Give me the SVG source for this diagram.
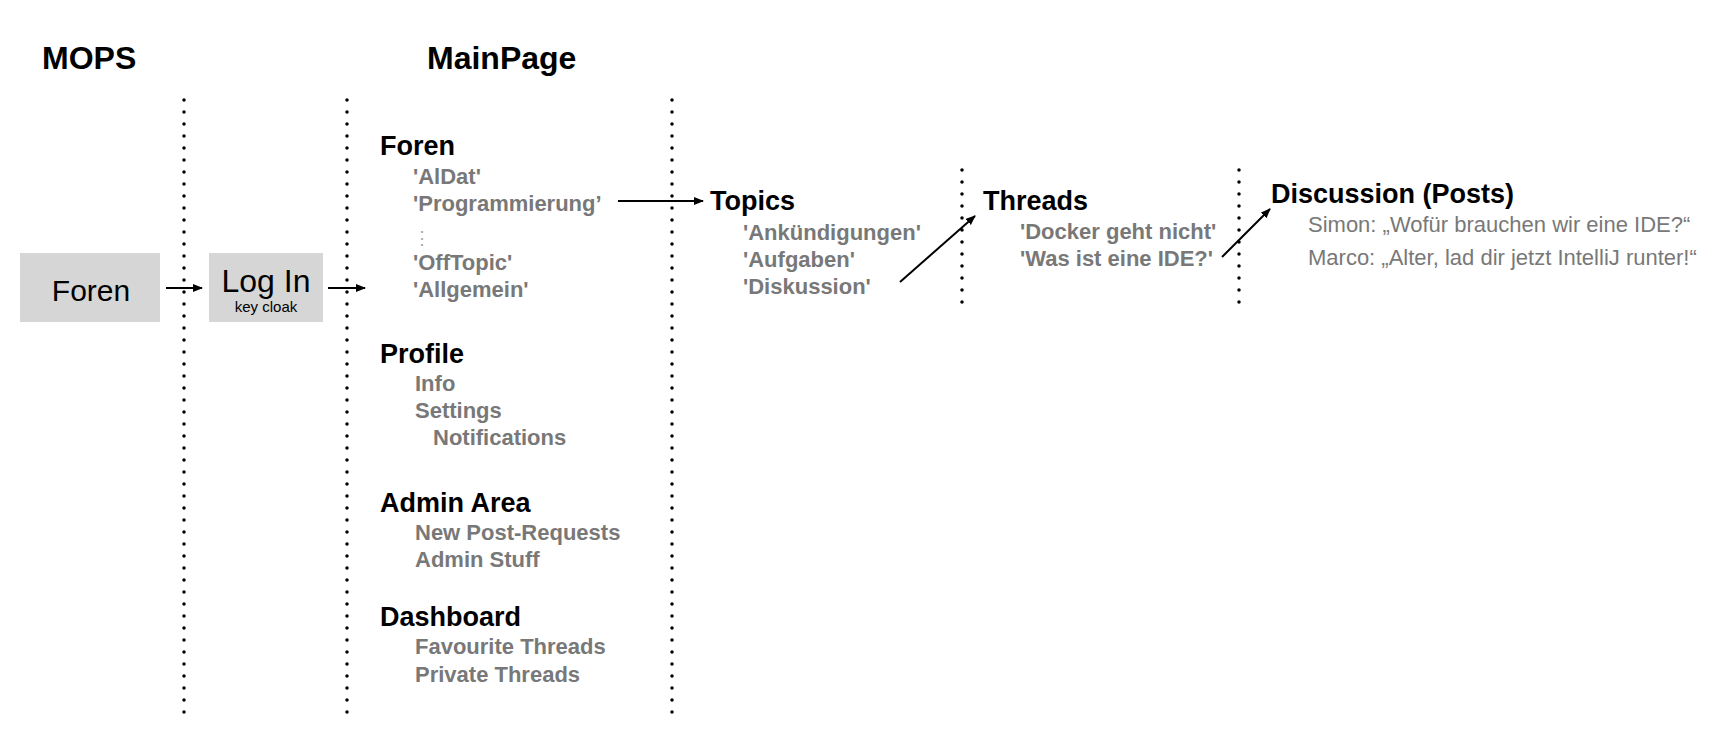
<svg xmlns="http://www.w3.org/2000/svg" width="1727" height="755" viewBox="0 0 1727 755">
<style>
text{font-family:"Liberation Sans",Arial,Helvetica,sans-serif}
.title{font-size:32px;font-weight:bold;fill:#000}
.head{font-size:27px;font-weight:bold;fill:#000}
.item{font-size:22px;font-weight:bold;fill:#787878}
.post{font-size:22px;fill:#787878}
.box{fill:#d6d6d6}
.dots{stroke:#000;stroke-width:3.5;stroke-linecap:round;stroke-dasharray:0 12;fill:none}
.arrow{stroke:#000;stroke-width:2;fill:none;marker-end:url(#ah)}
</style>
<defs>
<marker id="ah" markerUnits="userSpaceOnUse" markerWidth="10" markerHeight="10" refX="9" refY="4" orient="auto">
<path d="M0,0 L10,4 L0,8 z" fill="#000"/>
</marker>
</defs>
<rect width="1727" height="755" fill="#fff"/>
<g id="titles">
<text class="title" x="42" y="69">MOPS</text>
<text class="title" x="427" y="69">MainPage</text>
</g>
<g id="separators">
<line class="dots" x1="184" y1="100" x2="184" y2="716"/>
<line class="dots" x1="347" y1="100" x2="347" y2="716"/>
<line class="dots" x1="672" y1="100" x2="672" y2="716"/>
<line class="dots" x1="962" y1="170" x2="962" y2="305"/>
<line class="dots" x1="1239" y1="170" x2="1239" y2="305"/>
</g>
<g id="node-foren">
<rect class="box" x="20" y="253" width="140" height="69"/>
<text x="91" y="301" text-anchor="middle" font-size="30">Foren</text>
</g>
<g id="node-login">
<rect class="box" x="209" y="253" width="114" height="69"/>
<text x="266" y="292" text-anchor="middle" font-size="32">Log In</text>
<text x="266" y="312" text-anchor="middle" font-size="15">key cloak</text>
</g>
<g id="node-mainpage-foren">
<text class="head" x="380" y="155">Foren</text>
<text class="item" x="413" y="184">'AlDat'</text>
<text class="item" x="413" y="211">'Programmierung’</text>
<text x="413" y="244" font-family="DejaVu Sans, sans-serif" font-size="18" fill="#aaa">⋮</text>
<text class="item" x="413" y="270">'OffTopic'</text>
<text class="item" x="413" y="297">'Allgemein'</text>
</g>
<g id="node-profile">
<text class="head" x="380" y="363">Profile</text>
<text class="item" x="415" y="391">Info</text>
<text class="item" x="415" y="418">Settings</text>
<text class="item" x="433" y="445">Notifications</text>
</g>
<g id="node-admin">
<text class="head" x="380" y="512">Admin Area</text>
<text class="item" x="415" y="540">New Post-Requests</text>
<text class="item" x="415" y="567">Admin Stuff</text>
</g>
<g id="node-dashboard">
<text class="head" x="380" y="626">Dashboard</text>
<text class="item" x="415" y="654">Favourite Threads</text>
<text class="item" x="415" y="682">Private Threads</text>
</g>
<g id="node-topics">
<text class="head" x="710" y="210">Topics</text>
<text class="item" x="743" y="240">'Ankündigungen'</text>
<text class="item" x="743" y="267">'Aufgaben'</text>
<text class="item" x="743" y="294">'Diskussion'</text>
</g>
<g id="node-threads">
<text class="head" x="983" y="210">Threads</text>
<text class="item" x="1020" y="239">'Docker geht nicht'</text>
<text class="item" x="1020" y="266">'Was ist eine IDE?'</text>
</g>
<g id="node-discussion">
<text class="head" x="1271" y="203">Discussion (Posts)</text>
<text class="post" x="1308" y="232">Simon: „Wofür brauchen wir eine IDE?“</text>
<text class="post" x="1308" y="265">Marco: „Alter, lad dir jetzt IntelliJ runter!“</text>
</g>
<g id="connectors">
<line class="arrow" x1="166" y1="288" x2="202" y2="288"/>
<line class="arrow" x1="328" y1="288" x2="365" y2="288"/>
<line class="arrow" x1="618" y1="201" x2="703" y2="201"/>
<line class="arrow" x1="900" y1="282" x2="975" y2="216"/>
<line class="arrow" x1="1222" y1="257" x2="1270" y2="209"/>
</g>
</svg>
